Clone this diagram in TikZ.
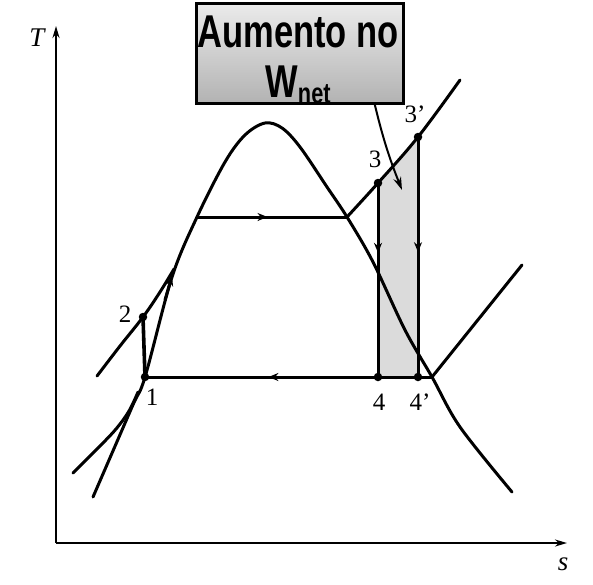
\documentclass[tikz,border=0pt]{standalone}
\usepackage{fontspec}
\setmainfont{Liberation Serif}
\newfontfamily\boxfont{Liberation Sans}
\usepackage{graphicx}
\usetikzlibrary{arrows.meta,decorations.markings}
\begin{document}
\begin{tikzpicture}[x=1pt,y=-1pt,
  curve/.style={line width=3pt, line cap=round, line join=round},
  axisline/.style={line width=2pt,-{Stealth[length=12pt,width=7pt]}},
  dot/.style={circle,fill=black,inner sep=0pt,minimum size=8.5pt},
  lbl/.style={font=\fontsize{25}{25}\selectfont, inner sep=0pt},
  axlbl/.style={font=\fontsize{27}{27}\selectfont\itshape, inner sep=0pt},
  midarrow/.style={postaction={decorate},decoration={markings,mark=at position #1 with {\arrow{Stealth[length=10pt,width=8pt]}}}},
  boxtext/.style={font=\boxfont\bfseries\fontsize{46}{46}\selectfont, inner sep=0pt, anchor=base}
]
\useasboundingbox (0,0) rectangle (593,584);

% key points
\coordinate (o) at (56,543);
\coordinate (tend) at (56,26);
\coordinate (send) at (567,543);
\coordinate (p1) at (145,377);
\coordinate (p2) at (143,317);
\coordinate (p3) at (378,183);
\coordinate (p3p) at (418,137);
\coordinate (p4) at (378,377);
\coordinate (p4p) at (418,377);
\coordinate (sl) at (197,217);
\coordinate (sv) at (347,217);
\coordinate (svl) at (432,377);
\coordinate (lpend) at (522,265);
\coordinate (hpend) at (460,80);

% shaded net work increase
\fill[gray!28] (p3) -- (p3p) -- (p4p) -- (p4) -- cycle;

% axes
\draw[axisline] (o) -- (tend);
\draw[axisline] (o) -- (send);
\node[axlbl] (tl) at (37,38) {T};
\node[axlbl] (sl2) at (563,564) {s};

% saturation dome
\draw[curve] plot[smooth, tension=0.55] coordinates {
  (93,497) (132,407) (p1) (172,277) (sl) (225,162) (245,135) (265,123)
  (282,128) (300,147) (327,187) (sv) (373,262) (405,330) (svl) (460,427) (512,492)};

% compressed liquid isobars
\draw[curve] plot[smooth, tension=0.6] coordinates {(97,376) (120,346) (p2) (160,292) (174,269)};
\draw[curve] plot[smooth, tension=0.6] coordinates {(73,473) (98,448) (116,429) (129,411) (138,392)};

% arrow on saturated liquid line
\coordinate (ara) at (165,300);
\coordinate (arb) at (172,276);
\draw[line width=3pt,-{Stealth[length=10pt,width=8pt]}] (ara) -- (arb);

% high pressure isobar
\draw[curve, midarrow=0.47] (sl) -- (sv);
\draw[curve] plot[smooth, tension=0.6] coordinates {(sv) (p3) (p3p) (hpend)};

% low pressure isobar
\draw[curve, midarrow=0.57] (svl) -- (p1);
\draw[curve] (svl) -- (lpend);

% pump
\draw[line width=3.6pt] (p1) -- (p2);

% expansions
\draw[curve, midarrow=0.36] (p3) -- (p4);
\draw[curve, midarrow=0.48] (p3p) -- (p4p);

% state dots
\foreach \p in {p1,p2,p3,p3p,p4,p4p} \node[dot] at (\p) {};

% state labels
\node[lbl] (l1) at (152,397) {1};
\node[lbl] (l2) at (125,314) {2};
\node[lbl] (l3) at (375,159) {3};
\node[lbl] (l3p) at (415,114) {3'};
\node[lbl] (l4) at (379,402) {4};
\node[lbl] (l4p) at (420,402) {4'};

% annotation box
\node[draw, line width=2.5pt, top color=black!8, bottom color=black!30,
      minimum width=207pt, minimum height=100pt, inner sep=0pt, anchor=north west] (box) at (195,2) {};
\node[boxtext] (t1) at (298,47) {\scalebox{0.75}[1]{Aumento no}};
\node[boxtext] (t2) at (298,97) {\scalebox{0.75}[1]{W\raisebox{-6pt}{\fontsize{29}{29}\selectfont net}}};

\coordinate (ba) at ([xshift=75pt]box.south);
\coordinate (bt) at (402,190);
\draw[line width=2pt,-{Stealth[length=13pt,width=8pt]}] (ba) to[bend right=4] (bt);
\end{tikzpicture}
\end{document}
